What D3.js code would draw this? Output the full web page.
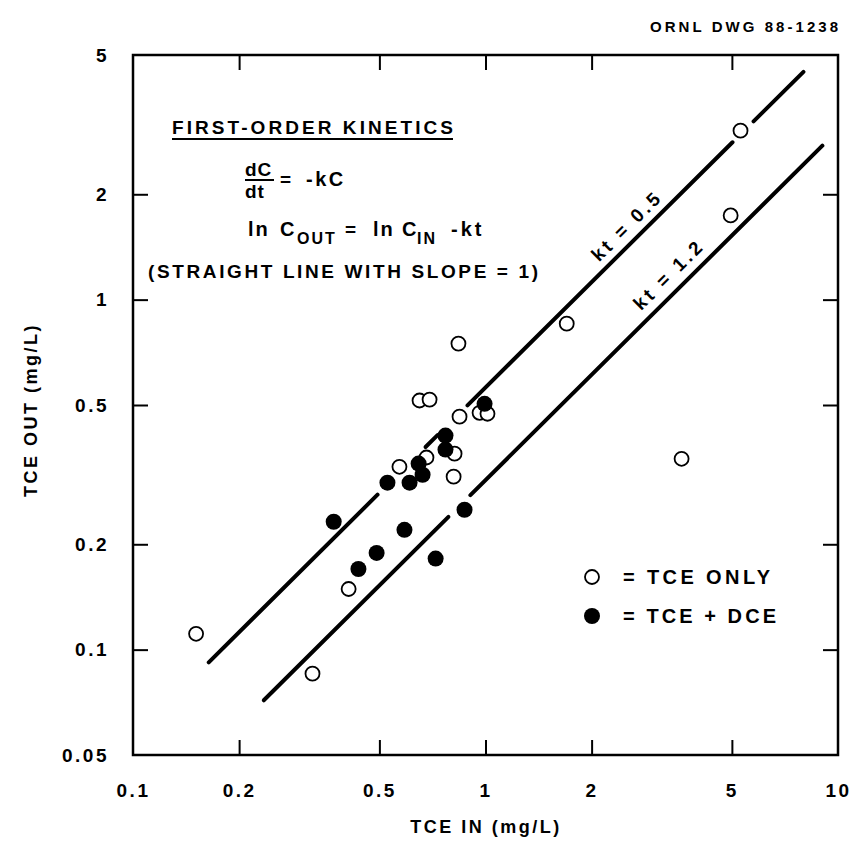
<!DOCTYPE html>
<html>
<head>
<meta charset="utf-8">
<script src="https://cdn.jsdelivr.net/npm/d3@7"></script>
<style>
  html, body { margin: 0; padding: 0; background: #fff; }
  svg { display: block; font-family: "Liberation Sans", Arial, sans-serif; font-weight: bold; }
</style>
</head>
<body>
<svg id="chart" width="855" height="843"></svg>
<script>
// ---- data ----
const xTickValues = [0.1, 0.2, 0.5, 1, 2, 5, 10];
const xTickLabels = ["0.1", "0.2", "0.5", "1", "2", "5", "10"];
const yTickValues = [0.05, 0.1, 0.2, 0.5, 1, 2, 5];
const yTickLabels = ["0.05", "0.1", "0.2", "0.5", "1", "2", "5"];

// TCE only (open circles): [TCE IN, TCE OUT]
const tceOnlyIn  = [0.151, 0.323, 0.409, 0.570, 0.650, 0.694, 0.680, 0.838, 0.844, 0.817, 0.812, 0.962, 1.013, 1.70, 3.60, 4.96, 5.29];
const tceOnlyOut = [0.111, 0.0854, 0.149, 0.333, 0.515, 0.518, 0.354, 0.749, 0.463, 0.363, 0.312, 0.475, 0.472, 0.854, 0.351, 1.74, 3.04];

// TCE + DCE (filled circles)
const tceDceIn  = [0.371, 0.436, 0.491, 0.527, 0.589, 0.609, 0.646, 0.663, 0.770, 0.770, 0.872, 0.722, 0.994];
const tceDceOut = [0.232, 0.170, 0.189, 0.300, 0.220, 0.300, 0.340, 0.316, 0.409, 0.373, 0.251, 0.182, 0.504];

// reference lines of slope 1 (OUT = ratio * IN), drawn in pieces (gaps as in the drawing)
const ktLabels = ["kt = 0.5", "kt = 1.2"];
const lineRatio = [0.561, 0.305];
const lineSegments = [
  [[0.164, 0.494], [0.676, 0.731], [0.889, 5.02], [5.76, 7.98]],
  [[0.235, 0.785], [0.906, 9.03]]
];
const ktLabelAt = [2.68, 3.55];   // TCE IN at the foot of each label
const ktLabelOffset = [15.5, 17]; // distance of label centre above the line

const legendLabels = ["= TCE ONLY", "= TCE + DCE"];

// ---- layout ----
const svg = d3.select("#chart");
const L = 133, R = 838, T = 55, B = 755;
const x = d3.scaleLog().domain([0.1, 10]).range([L, R]);
const y = d3.scaleLog().domain([0.05, 5]).range([B, T]);

svg.append("rect").attr("width", 855).attr("height", 843).attr("fill", "#fff");

// axes
const fmtX = d => xTickLabels[xTickValues.indexOf(d)];
const fmtY = d => yTickLabels[yTickValues.indexOf(d)];

const gx = svg.append("g").attr("transform", `translate(0,${B})`)
  .call(d3.axisBottom(x).tickValues(xTickValues).tickFormat(fmtX).tickSize(-15).tickSizeOuter(0).tickPadding(29));
const gxt = svg.append("g").attr("transform", `translate(0,${T})`)
  .call(d3.axisTop(x).tickValues(xTickValues.slice(1, -1)).tickFormat("").tickSize(-15).tickSizeOuter(0));
const gy = svg.append("g").attr("transform", `translate(${L},0)`)
  .call(d3.axisLeft(y).tickValues(yTickValues).tickFormat(fmtY).tickSize(-15).tickSizeOuter(0).tickPadding(24));
const gyr = svg.append("g").attr("transform", `translate(${R},0)`)
  .call(d3.axisRight(y).tickValues(yTickValues.slice(1, -1)).tickFormat("").tickSize(-15).tickSizeOuter(0));

[gx, gxt, gy, gyr].forEach(g => {
  g.select(".domain").remove();
  g.selectAll(".tick line").attr("stroke", "#000").attr("stroke-width", 2);
  g.selectAll("text").attr("fill", "#000").style("font-size", "19px")
    .style("font-weight", "bold").style("font-family", "'Liberation Sans', Arial, sans-serif")
    .style("letter-spacing", "2.5px");
});
gx.selectAll(".tick").filter(d => d === 0.1 || d === 10).select("line").remove();
gy.selectAll(".tick").filter(d => d === 0.05 || d === 5).select("line").remove();

// frame
svg.append("rect").attr("x", L).attr("y", T).attr("width", R - L).attr("height", B - T)
  .attr("fill", "none").attr("stroke", "#000").attr("stroke-width", 2.5);

// axis titles
svg.append("text").attr("x", (L + R) / 2 + 0.5).attr("y", 833).attr("text-anchor", "middle")
  .attr("font-size", 18).attr("letter-spacing", "2.5px").text("TCE IN (mg/L)");
svg.append("text").attr("transform", `translate(37,${(T + B) / 2 + 5}) rotate(-90)`).attr("text-anchor", "middle")
  .attr("font-size", 18).attr("letter-spacing", "2.5px").text("TCE OUT (mg/L)");

// drawing number
svg.append("text").attr("x", 650).attr("y", 32)
  .attr("font-size", 15).attr("textLength", 188).attr("lengthAdjust", "spacing").text("ORNL DWG 88-1238");

// reference lines
const ang = Math.atan2(y(10) - y(1), x(10) - x(1)) * 180 / Math.PI;
lineSegments.forEach((segs, i) => {
  svg.append("g").selectAll("line").data(segs).join("line")
    .attr("x1", d => x(d[0])).attr("y1", d => y(d[0] * lineRatio[i]))
    .attr("x2", d => x(d[1])).attr("y2", d => y(d[1] * lineRatio[i]))
    .attr("stroke", "#000").attr("stroke-width", 4).attr("stroke-linecap", "round");
  const cx = x(ktLabelAt[i]), cy = y(ktLabelAt[i] * lineRatio[i]);
  svg.append("text")
    .attr("transform", `translate(${cx},${cy}) rotate(${ang}) translate(0,${-ktLabelOffset[i]})`)
    .attr("text-anchor", "middle").attr("dy", "0.36em").attr("font-size", 19)
    .attr("textLength", 88).attr("lengthAdjust", "spacing")
    .text(ktLabels[i]);
});

// points
const open = tceOnlyIn.map((v, i) => [v, tceOnlyOut[i]]);
const filled = tceDceIn.map((v, i) => [v, tceDceOut[i]]);
svg.append("g").selectAll("circle").data(open).join("circle")
  .attr("cx", d => x(d[0])).attr("cy", d => y(d[1])).attr("r", 7)
  .attr("fill", "#fff").attr("stroke", "#000").attr("stroke-width", 1.8);
svg.append("g").selectAll("circle").data(filled).join("circle")
  .attr("cx", d => x(d[0])).attr("cy", d => y(d[1])).attr("r", 8)
  .attr("fill", "#000");

// annotation block
const ann = svg.append("g");
ann.append("text").attr("x", 172).attr("y", 134).attr("font-size", 19)
  .attr("textLength", 281).attr("lengthAdjust", "spacing").text("FIRST-ORDER KINETICS");
ann.append("line").attr("x1", 172).attr("x2", 453).attr("y1", 139).attr("y2", 139)
  .attr("stroke", "#000").attr("stroke-width", 2);
ann.append("text").attr("x", 245).attr("y", 176).attr("font-size", 19).attr("letter-spacing", "1px").text("dC");
ann.append("line").attr("x1", 245).attr("x2", 274).attr("y1", 180).attr("y2", 180)
  .attr("stroke", "#000").attr("stroke-width", 2);
ann.append("text").attr("x", 245).attr("y", 198).attr("font-size", 19).attr("letter-spacing", "1px").text("dt");
ann.append("text").attr("x", 280).attr("y", 186).attr("font-size", 19).text("=");
ann.append("text").attr("x", 306).attr("y", 186).attr("font-size", 20).attr("letter-spacing", "2.5px").text("-kC");

const lnParts = [
  {t: "ln", x: 248, y: 236, s: 20, ls: 2},
  {t: "C", x: 280, y: 236, s: 20, ls: 0},
  {t: "OUT", x: 297, y: 244, s: 16, ls: 2},
  {t: "=", x: 345, y: 236, s: 19, ls: 0},
  {t: "ln", x: 373, y: 236, s: 20, ls: 2},
  {t: "C", x: 402, y: 236, s: 20, ls: 0},
  {t: "IN", x: 417, y: 244, s: 16, ls: 2},
  {t: "-kt", x: 451, y: 236, s: 20, ls: 3}
];
ann.selectAll("text.ln").data(lnParts).join("text").attr("class", "ln")
  .attr("x", d => d.x).attr("y", d => d.y).attr("font-size", d => d.s)
  .attr("letter-spacing", d => d.ls + "px").text(d => d.t);

ann.append("text").attr("x", 148).attr("y", 278).attr("font-size", 19)
  .attr("textLength", 390).attr("lengthAdjust", "spacing").text("(STRAIGHT LINE WITH SLOPE = 1)");

// legend
const lg = svg.append("g");
lg.append("circle").attr("cx", 592).attr("cy", 577).attr("r", 7)
  .attr("fill", "#fff").attr("stroke", "#000").attr("stroke-width", 1.8);
lg.append("circle").attr("cx", 592).attr("cy", 616).attr("r", 8).attr("fill", "#000");
lg.selectAll("text").data(legendLabels).join("text")
  .attr("x", 623).attr("y", (d, i) => 584 + i * 39).attr("font-size", 20)
  .attr("textLength", (d, i) => i === 0 ? 147 : 153).attr("lengthAdjust", "spacing")
  .text(d => d);
</script>
</body>
</html>
